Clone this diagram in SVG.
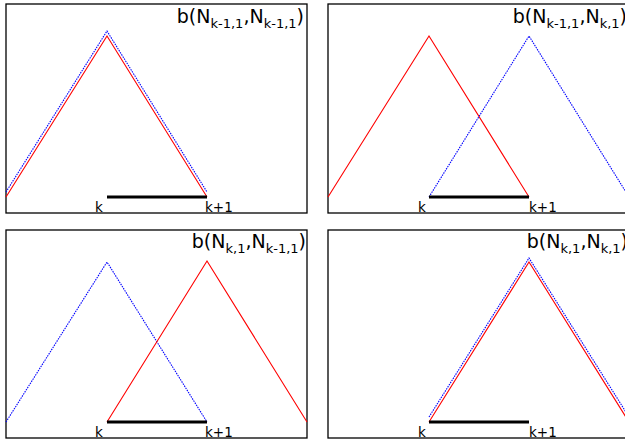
<svg xmlns="http://www.w3.org/2000/svg" width="625" height="442" viewBox="0 0 625 442">
<style>
.frame{fill:none;stroke:#000;stroke-width:1.3}
.red{fill:none;stroke:#ff0000;stroke-width:1.1}
.blue{fill:none;stroke:#0000ff;stroke-width:1.1;stroke-dasharray:1.5,1}
.seg{stroke:#000;stroke-width:3}
.title{font-family:"DejaVu Sans",sans-serif;font-size:19px;fill:#000}
.sub{font-size:13px}
.tick{font-family:"DejaVu Sans",sans-serif;font-size:13.5px;fill:#000}
</style>
<rect width="625" height="442" fill="#fff"/>
<g id="panel-tl">
<rect class="frame" x="6" y="4" width="301" height="209"/>
<polyline class="blue" points="6,192 107,31 207,192"/>
<polyline class="red" points="6,197 107,36 207,197"/>
<line class="seg" x1="107" y1="197" x2="207" y2="197"/>
<text class="tick" x="95" y="212">k</text>
<text class="tick" x="205" y="212">k+1</text>
<text class="title" x="304" y="23" text-anchor="end">b(N<tspan class="sub" dy="5">k-1,1</tspan><tspan dy="-5">,N</tspan><tspan class="sub" dy="5">k-1,1</tspan><tspan dy="-5">)</tspan></text>
</g>
<g id="panel-tr">
<rect class="frame" x="328" y="4" width="301" height="209"/>
<polyline class="red" points="328,197 429,36 529,197"/>
<polyline class="blue" points="429,197 529,36 629,197"/>
<line class="seg" x1="429" y1="197" x2="529" y2="197"/>
<text class="tick" x="418" y="212">k</text>
<text class="tick" x="529" y="212">k+1</text>
<text class="title" x="627" y="23" text-anchor="end">b(N<tspan class="sub" dy="5">k-1,1</tspan><tspan dy="-5">,N</tspan><tspan class="sub" dy="5">k,1</tspan><tspan dy="-5">)</tspan></text>
</g>
<g id="panel-bl">
<rect class="frame" x="6" y="230" width="301" height="208"/>
<polyline class="blue" points="6,422 107,262 207,422"/>
<polyline class="red" points="107,422 207,261 307,422"/>
<line class="seg" x1="107" y1="422" x2="207" y2="422"/>
<text class="tick" x="95" y="437">k</text>
<text class="tick" x="205" y="437">k+1</text>
<text class="title" x="306" y="248" text-anchor="end">b(N<tspan class="sub" dy="5">k,1</tspan><tspan dy="-5">,N</tspan><tspan class="sub" dy="5">k-1,1</tspan><tspan dy="-5">)</tspan></text>
</g>
<g id="panel-br">
<rect class="frame" x="328" y="230" width="301" height="208"/>
<polyline class="blue" points="429,417 529,258 629,417"/>
<polyline class="red" points="429,422 529,262 629,422"/>
<line class="seg" x1="429" y1="422" x2="529" y2="422"/>
<text class="tick" x="418" y="437">k</text>
<text class="tick" x="529" y="437">k+1</text>
<text class="title" x="628" y="248" text-anchor="end">b(N<tspan class="sub" dy="5">k,1</tspan><tspan dy="-5">,N</tspan><tspan class="sub" dy="5">k,1</tspan><tspan dy="-5">)</tspan></text>
</g>
<g id="connectors"/>
</svg>
